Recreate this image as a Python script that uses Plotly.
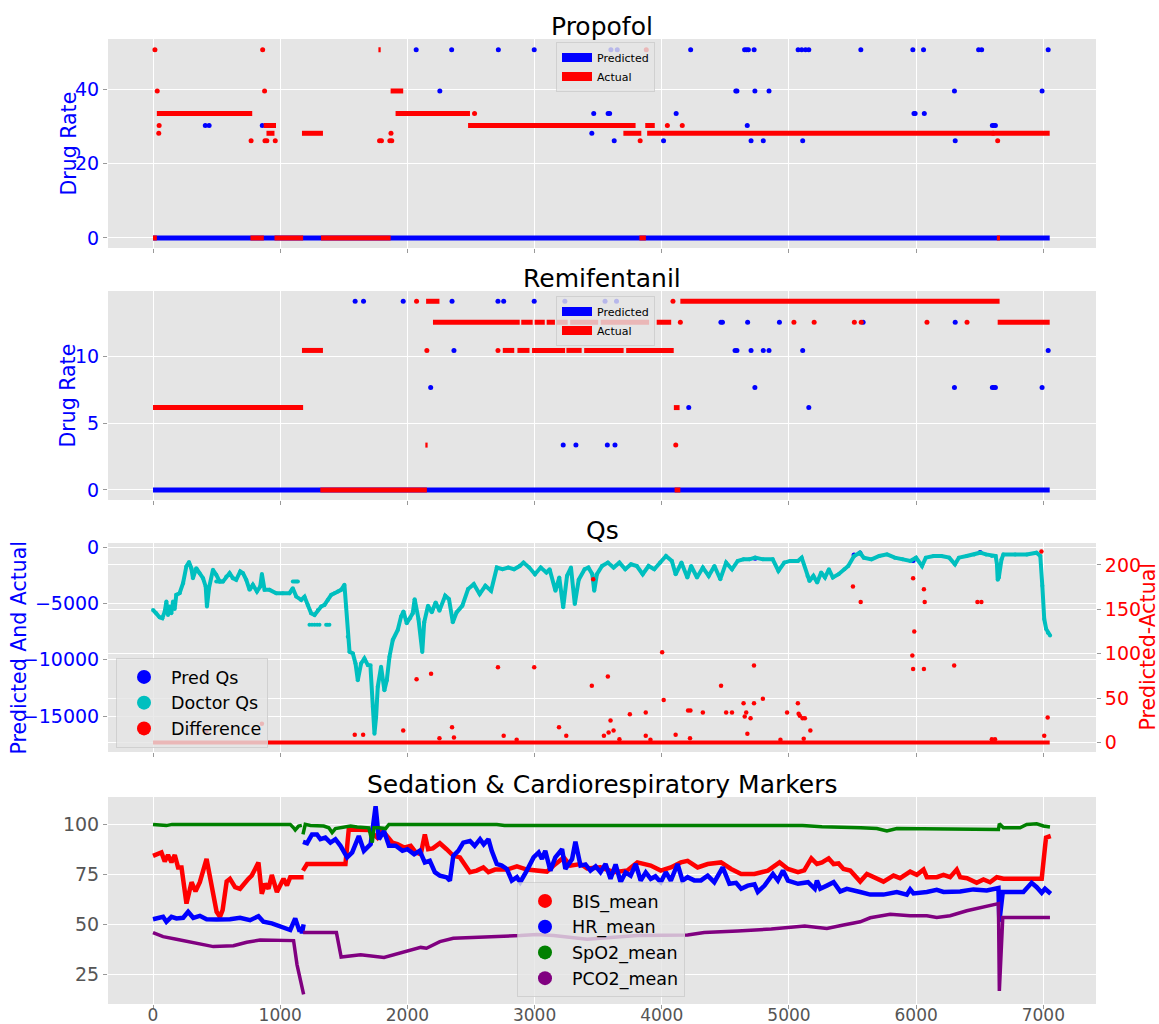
import plotly.graph_objects as go

# ----------------------------- Propofol -----------------------------
PROP_ACT_RUN_START = [0, 30, 766, 870, 892, 955, 1171, 1321, 1772, 1868, 1907, 2477, 3698, 3824, 3870, 3885, 6635]
PROP_ACT_RUN_END = [30, 780, 871, 967, 955, 1180, 1336, 1868, 1790, 1967, 2492, 3794, 3839, 3875, 3945, 7050, 6659]
PROP_ACT_RUN_LEVEL = [0, 33.5, 0, 30.3, 28.2, 0, 28.2, 0, 50.7, 39.6, 33.5, 30.3, 28.2, 0, 30.3, 28.2, 0]

PROP_ACT_PT_X = [15, 33, 45, 48, 771, 862, 877, 880, 895, 961, 1781, 1796, 1862, 1871, 1877, 2528, 3830, 3878, 4044, 4161, 6605, 6641]
PROP_ACT_PT_Y = [50.7, 39.6, 28.2, 30.3, 26.2, 50.7, 39.6, 26.2, 26.2, 26.2, 26.2, 26.2, 26.2, 28.2, 26.2, 33.5, 26.2, 50.7, 30.3, 30.3, 28.2, 26.2]

PROP_PRED_RUN_START = [0]
PROP_PRED_RUN_END = [7050]
PROP_PRED_RUN_LEVEL = [0]

PROP_PRED_PT_X = [411, 441, 859, 2069, 2255, 2348, 2715, 2997, 3450, 3465, 3578, 3590, 3600, 3626, 3650,
                  4014, 4113, 4227, 4582, 4591, 4651, 4666, 4672, 4681, 4702, 4726, 4732, 4798, 4843,
                  5072, 5100, 5108, 5130, 5156, 5565, 5974, 5983, 5992, 6058, 6064, 6301, 6307,
                  6491, 6515, 6599, 6611, 6623, 6990, 7038]
PROP_PRED_PT_Y = [30.3, 30.3, 30.3, 50.7, 39.6, 50.7, 50.7, 50.7, 28.2, 33.5, 33.5, 33.5, 50.7, 26.2, 50.7,
                  26.2, 33.5, 50.7, 39.6, 39.6, 50.7, 50.7, 30.3, 50.7, 26.2, 50.7, 39.6, 26.2, 39.6,
                  50.7, 50.7, 26.2, 50.7, 50.7, 50.7, 50.7, 33.5, 33.5, 50.7, 33.5, 39.6, 26.2,
                  50.7, 50.7, 30.3, 30.3, 30.3, 39.6, 50.7]

# ----------------------------- Remifentanil -----------------------------
REMI_ACT_RUN_START = [0, 1171, 1315, 2141, 2147, 2201, 2895, 3000, 3095, 3175, 3280, 3520, 3960,
                      2750, 2865, 2980, 3250, 3390, 3720, 4095, 4101, 4146, 6641]
REMI_ACT_RUN_END = [1180, 1336, 2153, 2159, 2252, 2883, 2985, 3080, 3160, 3260, 3500, 3900, 4074,
                    2840, 2960, 3240, 3370, 3700, 4094, 4140, 4146, 6656, 7050]
REMI_ACT_RUN_LEVEL = [6.17, 10.45, 0, 3.36, 14.13, 12.56, 12.56, 12.56, 12.56, 12.56, 12.56, 12.56, 12.56,
                      10.45, 10.45, 10.45, 10.45, 10.45, 10.45, 6.17, 0, 14.13, 12.56]

REMI_ACT_PT_X = [2072, 2153, 2712, 4088, 4110, 4146, 5039, 5198, 5514, 5568, 6085, 6400]
REMI_ACT_PT_Y = [14.13, 10.45, 10.45, 14.13, 3.36, 12.56, 12.56, 12.56, 12.56, 12.56, 12.56, 12.56]

REMI_PRED_RUN_START = [0]
REMI_PRED_RUN_END = [7050]
REMI_PRED_RUN_LEVEL = [0]

REMI_PRED_PT_X = [1589, 1655, 1967, 2183, 2351, 2366, 2712, 2757, 2997,
                  3225, 3238, 3325, 3554, 3572, 3632, 3644,
                  4212, 4465, 4477, 4576, 4591, 4675, 4702, 4732, 4798, 4843, 4925,
                  5108, 5156, 5583,
                  6301, 6307, 6599, 6611, 6623, 6990, 7038]
REMI_PRED_PT_Y = [14.13, 14.13, 14.13, 7.67, 14.13, 10.45, 14.13, 14.13, 14.13,
                  3.36, 14.13, 3.36, 14.13, 3.36, 3.36, 14.13,
                  6.17, 12.56, 12.56, 10.45, 10.45, 12.56, 10.45, 7.67, 10.45, 10.45, 12.56,
                  10.45, 6.17, 12.56,
                  7.67, 12.56, 7.67, 7.67, 7.67, 7.67, 10.45]

# ----------------------------- Qs -----------------------------
QS_DOC_X = [0, 26, 52, 73, 92, 105, 118, 131, 144, 157, 170, 183, 209, 236, 262, 283, 301, 314, 340, 366,
            393, 414, 424, 440, 471, 497, 524, 550, 576, 602, 628, 654, 686, 707, 733, 759, 785, 817, 843,
            856, 877, 916, 969, 1021, 1073, 1099, 1126, 1165, 1191, 1217, 1243, 1270, 1296, 1322, 1348,
            1374, 1401, 1427, 1453, 1479, 1505, 1518, 1531, 1545, 1571, 1592, 1610, 1636, 1662, 1689, 1709,
            1728, 1741, 1754, 1767, 1793, 1819, 1838, 1859, 1885, 1924, 1950, 1969, 1995, 2021, 2042,
            2057, 2087, 2117, 2132, 2162, 2192, 2222, 2252, 2297, 2327, 2357, 2387, 2432, 2477, 2522,
            2568, 2613, 2658, 2703, 2748, 2793, 2838, 2883, 2913, 2958, 3003, 3048, 3093, 3118, 3164,
            3194, 3225, 3255, 3286, 3316, 3347, 3393, 3423, 3454, 3469, 3490, 3530, 3576, 3621, 3667,
            3713, 3758, 3804, 3850, 3896, 3941, 3987, 4033, 4079, 4109, 4155, 4201, 4231, 4277, 4323,
            4369, 4414, 4460, 4506, 4552, 4597, 4643, 4689, 4734, 4795, 4872, 4917, 4963, 5009, 5070,
            5100, 5146, 5161, 5192, 5222, 5253, 5283, 5314, 5345, 5390, 5436, 5466, 5512, 5558, 5588,
            5649, 5710, 5771, 5832, 5893, 5954, 5999, 6046, 6076, 6137, 6199, 6260, 6305, 6336, 6397,
            6457, 6503, 6549, 6595, 6625, 6635, 6641, 6650, 6671, 6686, 6778, 6870, 6946, 6976, 6992,
            7007, 7022, 7035, 7053]
QS_DOC_Y = [-5576, -5873, -6229, -6318, -5724, -4835, -6021, -5279, -5873, -4835, -5500, -4241, -4093, -3203,
            -1720, -1335, -1869, -2758, -1869, -2313, -2758, -3500, -5279, -3648, -2017, -2462, -3055, -3055,
            -2610, -2313, -2758, -2907, -2165, -2313, -2907, -3796, -3351, -3945, -3500, -2400, -3796, -3796,
            -4093, -4093, -4093, -3648, -4390, -4686, -4400, -5131, -5873, -6021, -5576, -5279, -5131, -4686,
            -4241, -4093, -3945, -3796, -3351, -5279, -7949, -9283, -9432, -10322, -11805, -10322, -9877,
            -10470, -10500, -14177, -16551, -15067, -12398, -10619, -12695, -11805, -9728, -8245, -7356,
            -6169, -5724, -6762, -6318, -5873, -4620, -6380, -9320, -6670, -5200, -5790, -4910, -5640,
            -4320, -4620, -6670, -5790, -5200, -3730, -3290, -4170, -3440, -3880, -1820, -1970, -1820,
            -1970, -1680, -1380, -1820, -2410, -1820, -2260, -1970, -3880, -2700, -5350, -2560, -1820,
            -5060, -2900, -1970, -1820, -2410, -3880, -2410, -1680, -1380, -1820, -1380, -1970, -1530,
            -1680, -2410, -1680, -1970, -1380, -790, -1230, -2410, -1380, -2700, -1680, -2700, -1820,
            -2560, -1680, -2850, -1380, -1970, -1230, -1090, -1090, -940, -1090, -1090, -2120, -1380,
            -1230, -1230, -940, -2560, -3000, -2560, -3150, -2260, -2700, -1970, -2700, -2410, -1970,
            -1680, -790, -500, -940, -1090, -790, -650, -940, -1090, -1230, -940, -1680, -940, -790,
            -790, -940, -1530, -940, -790, -650, -500, -650, -790, -790, -1500, -2900, -2700, -1100,
            -650, -650, -650, -500, -790, -3440, -6380, -7260, -7600, -7850]

QS_DOC_EXTRA_X = [497, 510, 524, 537, 1099, 1110, 1120, 1130, 1139, 1230, 1250, 1270, 1290, 1309, 1361, 1374, 1387]
QS_DOC_EXTRA_Y = [-3055, -3055, -3055, -3055, -3055, -3055, -3055, -3055, -3055,
                  -6900, -6900, -6900, -6900, -6900, -6900, -6900, -6900]

QS_PRED_X = [4734, 5512, 5558, 5976, 6503]
QS_PRED_Y = [-1000, -700, -520, -1200, -480]

QS_DIFF_RUN_START = [0]
QS_DIFF_RUN_END = [7050]
QS_DIFF_RUN_LEVEL = [0]

QS_DIFF_X = [420, 856, 1586, 1652, 1967, 2072, 2186, 2252, 2351, 2366, 2712, 2757, 2859, 2997, 3192, 3249,
             3450, 3461, 3545, 3576, 3582, 3597, 3621, 3667, 3749, 3874, 3874, 3911, 4003, 4015, 4109, 4207,
             4225, 4222, 4323, 4466, 4506, 4552, 4643, 4652, 4664, 4673, 4698, 4725, 4725, 4795, 4933, 4985,
             5070, 5076, 5085, 5107, 5116, 5125, 5168, 5503, 5564, 5976, 5985, 5970, 5976, 6061, 6067, 6061,
             6299, 6482, 6513, 6595, 6620, 6985, 7007, 7034]
QS_DIFF_Y = [12.4, 21, 8.6, 8.6, 13.5, 71.3, 77.3, 4.9, 17.3, 5.6, 84.8, 7.5, 3, 84.8, 17.3, 7.5,
             63.8, 183.9, 7.5, 74.3, 11.3, 24.8, 13.5, 3.8, 31.9, 33.8, 7.5, 3, 101.7, 48, 8.6, 36,
             36, 4.9, 33.8, 63.8, 33.8, 33.8, 44.3, 29.3, 33.8, 9.8, 27.4, 86.7, 44.3, 49.2, 3, 33.8,
             44.3, 32.3, 30, 27.4, 4.1, 27.4, 13.5, 175.6, 158.3, 185, 125, 97.9, 82.9, 172.6, 158.3, 82.9,
             86.7, 158.3, 158.3, 3.8, 3.8, 215, 7.5, 28.1]

QS_LEFT_TICKS = [-15000, -10000, -5000, 0]
QS_LEFT_TICKTEXT = ["\u221215000", "\u221210000", "\u22125000", "0"]
QS_RIGHT_TICKS = [0, 50, 100, 150, 200]

# ----------------------------- Markers -----------------------------
BIS_X = [0, 66, 92, 118, 145, 171, 197, 224, 263, 303, 334, 368, 421, 461, 500, 526, 547, 579, 605, 645,
         684, 750, 776, 803, 829, 855, 882, 908, 934, 974, 1026, 1053, 1079, 1132, 1184, None,
         1179, 1211, 1513, 1539, 1697, 1763, 1789, 1829, 1882, 1921, 1974, 2026, 2066, 2105, 2137, 2163,
         2200, 2255, 2308, 2361, 2413, 2466, 2492, 2545, 2597, 2637, 2689, 2782, 2861, 2939, 3005, 3097,
         3150, 3229, 3282, 3361, 3413, 3518, 3624, 3729, 3808, 3913, 3992, 4071, 4150, 4203, 4282, 4361,
         4466, 4545, 4624, 4729, 4834, 4926, 4992, 5071, 5120, 5176, 5220, 5260, 5312, 5351, 5390, 5429,
         5482, 5560, 5613, 5691, 5743, 5822, 5874, 5953, 6005, 6058, 6084, 6162, 6215, 6267, 6319, 6346,
         6400, 6476, 6529, 6581, 6634, 6686, 6987, 7021, 7058]
BIS_Y = [84.3, 86, 81.5, 84.7, 81, 84.7, 78.5, 78.5, 60.4, 71.1, 66.5, 71.1, 82.7, 69.5, 56.3, 53.8, 57.1,
         71.5, 72.8, 68.6, 67.8, 72.8, 74.4, 77.7, 81, 65.3, 70.3, 67.8, 74.7, 66.2, 72.8, 69.5, 73.6, 73.6,
         73.6, None,
         76.9, 80.2, 80.2, 97.5, 97.2, 93.4, 96.7, 95, 90.9, 90.1, 88.4, 89.3, 86, 85.1, 95, 87.6,
         88, 90.6, 87.6, 84.3, 83.5, 78.5, 76.1, 76.9, 78.5, 76.1, 77.4, 77.4, 79, 77.4, 76.9, 76.4,
         79.4, 83.5, 79.4, 80.2, 78, 78.5, 76.1, 77, 81, 79.4, 76.9, 78.5, 81, 81.8, 78.5, 80.2,
         81, 77.7, 75.2, 75.2, 76.9, 81, 77.7, 76.1, 77, 83, 80.2, 81, 83, 80.2, 80.5, 77.7,
         76.9, 71.4, 75.2, 73.1, 71.4, 74.4, 73.1, 76.4, 74.8, 77.4, 73.6, 73.6, 74.8, 73.6, 77.4, 73.6,
         73.1, 70.8, 72.5, 71.1, 73.6, 72.8, 72.8, 93.4, 94.2]

HR_X = [0, 39, 79, 105, 145, 184, 237, 276, 316, 368, 421, 500, 605, 684, 763, 829, 868, 934, 1000, 1053,
        1079, 1118, 1153, 1163, 1171, 1184, None,
        1179, 1211, 1250, 1289, 1316, 1355, 1395, 1434, 1474, 1526, 1566, 1618, 1658, 1711, 1750, 1776,
        1816, 1855, 1908, 1961, 2000, 2053, 2097, 2137, 2176, 2216, 2255, 2308, 2334, 2361, 2400, 2439,
        2492, 2529, 2571, 2600, 2637, 2663, 2703, 2742, 2782, 2821, 2861, 2887, 2939, 2992, 3032, 3058,
        3084, 3124, 3163, 3216, 3242, 3295, 3321, 3361, 3400, 3439, 3480, 3518, 3558, 3597, 3637, 3676,
        3715, 3755, 3795, 3834, 3874, 3913, 3950, 3992, 4032, 4071, 4124, 4163, 4203, 4255, 4308, 4361,
        4413, 4479, 4532, 4584, 4624, 4676, 4729, 4755, 4808, 4874, 4913, 4953, 4992, 5071, 5150, 5203,
        5220, 5246, 5298, 5351, 5403, 5455, 5560, 5639, 5743, 5848, 5927, 5953, 5979, 6084, 6162, 6215,
        6346, 6450, 6555, 6620, 6647, 6654, 6681, 6843, 6908, 6948, 6987, 7013, 7058]
HR_Y = [52.6, 53.3, 53.8, 51.3, 53.8, 53, 53.3, 56.3, 53.3, 54.3, 52.6, 52.5, 52.6, 53.3, 52.1, 54.1, 51.3,
        50.5, 48.8, 48, 47.2, 53, 46.4, 48.8, 45.5, 50, None,
        91.3, 90.6, 95, 95, 92.6, 93.4, 90.9, 92.6, 89.3, 83.5, 86, 94.2, 86.8, 90.1, 109.1, 92.6,
        96.7, 89.3, 89.3, 86.8, 87.6, 85.1, 86.8, 81, 81.8, 76.1, 74.4, 73.6, 71.9, 84.3, 86.8, 90.9,
        91.7, 89.3, 92.6, 90, 92.6, 86.8, 80.2, 79.4, 77.7, 71.9, 73.6, 71.1, 76.9, 83.5, 86, 82.7,
        86.8, 76.9, 83.5, 87.6, 77.7, 82.7, 91.3, 79.4, 80, 76.9, 79, 76.1, 80.2, 72.8, 80, 71.1,
        76, 74.4, 80.2, 71.9, 76, 72.8, 74, 71.1, 76.1, 71.9, 80.2, 71.9, 73.6, 72, 72, 74.4,
        71.1, 78.5, 70.3, 70.8, 67.8, 69.4, 70, 66.2, 69.4, 75.2, 71.9, 76.9, 71.9, 70.3, 71.1, 67.8,
        71.9, 67.8, 69.4, 71.1, 66.5, 67.8, 66.2, 64.9, 64.9, 66.2, 64.9, 67.5, 65.5, 66.2, 67.3, 66.2,
        66.5, 67.5, 67, 68.2, 68.2, 51.3, 66.2, 66.2, 70.8, 68.6, 65.8, 67.8, 65.3]

SPO2_X = [0, 105, 150, 1079, 1105, 1118, 1145, 1170, None,
          1179, 1197, 1237, 1289, 1342, 1382, 1408, 1434, 1500, 1553, 1605, 1658, 1697, 1724, 1737, 1776,
          1829, 1855, 2703, 2763, 3508, 4466, 5107, 5260, 5429, 5565, 5691, 5770, 5848, 6084, 6346, 6647,
          6654, 6686, 6817, 6869, 6948, 7000, 7052]
SPO2_Y = [100, 99.4, 100, 100, 98.3, 97.2, 99.2, 99.5, None,
          95, 100, 99.5, 99.2, 99.2, 98.3, 95.9, 97.9, 98.7, 99.2, 98.7, 98.3, 98.3, 90.9, 98.3, 98.3,
          97.9, 100, 100, 99.5, 99.5, 99.5, 99.5, 98.8, 98.7, 98.3, 97.9, 96.7, 97.9, 97.9, 97.5, 97.5,
          100.3, 98.3, 98.3, 100, 100.3, 99.2, 98.7]

PCO2_X = [0, 79, 184, 289, 395, 474, 632, 737, 842, 1000, 1105, 1132, 1158, 1184, None,
          1180, 1442, 1479, 1632, 1816, 2000, 2105, 2150, 2255, 2361, 2624, 2887, 3018, 3150, 3413, 3545,
          3808, 4203, 4334, 4597, 4861, 5124, 5255, 5298, 5429, 5560, 5639, 5796, 5953, 6084, 6162, 6267,
          6398, 6529, 6647, 6654, 6681, 7052]
PCO2_Y = [45.9, 43.9, 42.6, 41.1, 39.8, 38.9, 39.3, 41.1, 42.2, 42.2, 41.9, 29.9, 21.6, 15, None,
          45.9, 45.9, 33.7, 34.8, 33.5, 36.5, 38.5, 38.1, 41.4, 43.1, 43.6, 44.4, 45, 44.4, 42.6, 43.1,
          44.4, 44.7, 46, 46.7, 47.7, 49.2, 48.5, 48, 49.7, 51.3, 53.3, 55.1, 54.3, 54.3, 53.5, 54.3,
          56.8, 58.7, 60.4, 16.7, 53.5, 53.5]

X_TICKS = [0, 1000, 2000, 3000, 4000, 5000, 6000, 7000]

# ----------------------------- styling -----------------------------
FONT = "DejaVu Sans"
BLUE = "#0000FF"
RED = "#FF0000"
CYAN = "#00BFBF"
GREEN = "#008000"
PURPLE = "#800080"
BG = "#E5E5E5"
TICKGRAY = "#555555"

W, H = 1159, 1024
ML, MR, MT, MB = 108, 63, 39, 20
PW = W - ML - MR
PH = H - MT - MB


def ydom(top_px, bot_px):
    return [(H - MB - bot_px) / PH, (H - MB - top_px) / PH]


DOM1 = ydom(39, 248)
DOM2 = ydom(291, 500)
DOM3 = ydom(543, 752)
DOM4 = ydom(797, 1004)


def runs(starts, ends, levels):
    xs, ys = [], []
    for s, e, v in zip(starts, ends, levels):
        xs += [s, e, None]
        ys += [v, v, None]
    return xs, ys


fig = go.Figure()


def drug_panel(xa, ya, legend, pr_s, pr_e, pr_l, pp_x, pp_y, ar_s, ar_e, ar_l, ap_x, ap_y):
    rx, ry = runs(pr_s, pr_e, pr_l)
    fig.add_trace(go.Scatter(x=rx, y=ry, mode="lines", line=dict(color=BLUE, width=5),
                             xaxis=xa, yaxis=ya, showlegend=False, hoverinfo="skip"))
    fig.add_trace(go.Scatter(x=pp_x, y=pp_y, mode="markers", marker=dict(color=BLUE, size=5),
                             xaxis=xa, yaxis=ya, showlegend=False))
    rx, ry = runs(ar_s, ar_e, ar_l)
    fig.add_trace(go.Scatter(x=rx, y=ry, mode="lines", line=dict(color=RED, width=5),
                             xaxis=xa, yaxis=ya, showlegend=False, hoverinfo="skip"))
    fig.add_trace(go.Scatter(x=ap_x, y=ap_y, mode="markers", marker=dict(color=RED, size=5),
                             xaxis=xa, yaxis=ya, showlegend=False))
    for name, col in [("Predicted", BLUE), ("Actual", RED)]:
        fig.add_trace(go.Scatter(x=[None], y=[None], mode="lines", name=name,
                                 line=dict(color=col, width=9), xaxis=xa, yaxis=ya,
                                 legend=legend, showlegend=True))


drug_panel("x", "y", "legend", PROP_PRED_RUN_START, PROP_PRED_RUN_END, PROP_PRED_RUN_LEVEL,
           PROP_PRED_PT_X, PROP_PRED_PT_Y, PROP_ACT_RUN_START, PROP_ACT_RUN_END, PROP_ACT_RUN_LEVEL,
           PROP_ACT_PT_X, PROP_ACT_PT_Y)
drug_panel("x2", "y2", "legend2", REMI_PRED_RUN_START, REMI_PRED_RUN_END, REMI_PRED_RUN_LEVEL,
           REMI_PRED_PT_X, REMI_PRED_PT_Y, REMI_ACT_RUN_START, REMI_ACT_RUN_END, REMI_ACT_RUN_LEVEL,
           REMI_ACT_PT_X, REMI_ACT_PT_Y)

# Qs panel
fig.add_trace(go.Scatter(x=QS_PRED_X, y=QS_PRED_Y, mode="markers", marker=dict(color=BLUE, size=5),
                         xaxis="x3", yaxis="y3", showlegend=False))
fig.add_trace(go.Scatter(x=QS_DOC_X, y=QS_DOC_Y, mode="lines+markers", line=dict(color=CYAN, width=4),
                         marker=dict(color=CYAN, size=4), xaxis="x3", yaxis="y3", showlegend=False))
fig.add_trace(go.Scatter(x=QS_DOC_EXTRA_X, y=QS_DOC_EXTRA_Y, mode="markers", marker=dict(color=CYAN, size=4),
                         xaxis="x3", yaxis="y3", showlegend=False))
rx, ry = runs(QS_DIFF_RUN_START, QS_DIFF_RUN_END, QS_DIFF_RUN_LEVEL)
fig.add_trace(go.Scatter(x=rx, y=ry, mode="lines", line=dict(color=RED, width=4),
                         xaxis="x3", yaxis="y5", showlegend=False))
fig.add_trace(go.Scatter(x=QS_DIFF_X, y=QS_DIFF_Y, mode="markers", marker=dict(color=RED, size=4.5),
                         xaxis="x3", yaxis="y5", showlegend=False))
for name, col in [("Pred Qs", BLUE), ("Doctor Qs", CYAN), ("Difference", RED)]:
    fig.add_trace(go.Scatter(x=[None], y=[None], mode="markers", name=name,
                             marker=dict(color=col, size=14), xaxis="x3", yaxis="y3",
                             legend="legend3", showlegend=True))

# Markers panel
for xs, ys, col, wdt in [(BIS_X, BIS_Y, RED, 4.5), (HR_X, HR_Y, BLUE, 4.5),
                         (SPO2_X, SPO2_Y, GREEN, 3.5), (PCO2_X, PCO2_Y, PURPLE, 3.5)]:
    fig.add_trace(go.Scatter(x=xs, y=ys, mode="lines", line=dict(color=col, width=wdt),
                             connectgaps=False, xaxis="x4", yaxis="y4", showlegend=False))
for name, col in [("BIS_mean", RED), ("HR_mean", BLUE), ("SpO2_mean", GREEN), ("PCO2_mean", PURPLE)]:
    fig.add_trace(go.Scatter(x=[None], y=[None], mode="markers", name=name,
                             marker=dict(color=col, size=14), xaxis="x4", yaxis="y4",
                             legend="legend4", showlegend=True))

XR = [-354, 7414]
axis_common = dict(showgrid=True, gridcolor="white", gridwidth=1, zeroline=False, showline=False,
                   ticks="outside", ticklen=4, tickcolor="#999999", automargin=False)

xcommon = dict(axis_common, range=XR, tickvals=X_TICKS, domain=[0, 1])

leg_common = dict(bgcolor="rgba(229,229,229,0.8)", bordercolor="rgba(200,200,200,0.7)", borderwidth=1,
                  xanchor="left", yanchor="top", tracegroupgap=0)


def px_x(p):
    return (p - ML) / PW


def px_y(p):
    return (H - MB - p) / PH


fig.update_layout(
    width=W, height=H, template="none",
    margin=dict(l=ML, r=MR, t=MT, b=MB, pad=0),
    paper_bgcolor="white", plot_bgcolor=BG,
    font=dict(family=FONT, size=18, color="black"),
    xaxis=dict(xcommon, anchor="y", matches="x4", showticklabels=False),
    xaxis2=dict(xcommon, anchor="y2", matches="x4", showticklabels=False),
    xaxis3=dict(xcommon, anchor="y3", matches="x4", showticklabels=False),
    xaxis4=dict(xcommon, anchor="y4", tickfont=dict(color=TICKGRAY, size=17), ticklabelstandoff=-8),
    yaxis=dict(axis_common, domain=DOM1, anchor="x", range=[-2.7, 53.6], tickvals=[0, 20, 40],
               tickfont=dict(color=BLUE, size=19)),
    yaxis2=dict(axis_common, domain=DOM2, anchor="x2", range=[-0.75, 14.9], tickvals=[0, 5, 10],
                tickfont=dict(color=BLUE, size=19)),
    yaxis3=dict(axis_common, domain=DOM3, anchor="x3", range=[-18180, 360],
                tickvals=QS_LEFT_TICKS, ticktext=QS_LEFT_TICKTEXT, tickfont=dict(color=BLUE, size=19)),
    yaxis5=dict(axis_common, overlaying="y3", side="right", anchor="x3", range=[-10.7, 224.7],
                tickvals=QS_RIGHT_TICKS, tickfont=dict(color=RED, size=19)),
    yaxis4=dict(axis_common, domain=DOM4, anchor="x4", range=[10.2, 113.7],
                tickvals=[25, 50, 75, 100], tickfont=dict(color=TICKGRAY, size=19)),
    legend=dict(leg_common, x=px_x(556), y=px_y(42), font=dict(size=11, color="black")),
    legend2=dict(leg_common, x=px_x(556), y=px_y(296), font=dict(size=11, color="black")),
    legend3=dict(leg_common, x=px_x(116), y=px_y(658), font=dict(size=17.5, color="black"), itemwidth=44),
    legend4=dict(leg_common, x=px_x(517), y=px_y(882), font=dict(size=17.5, color="black"), itemwidth=44),
)

annotations = []
for title, dom in [("Propofol", DOM1), ("Remifentanil", DOM2), ("Qs", DOM3),
                   ("Sedation & Cardiorespiratory Markers", DOM4)]:
    annotations.append(dict(text=title, x=0.5, y=dom[1], xref="paper", yref="paper",
                            xanchor="center", yanchor="bottom", showarrow=False, yshift=-4,
                            font=dict(size=25, color="black", family=FONT)))
for text, xpx, dom, col in [("Drug Rate", 68, DOM1, BLUE), ("Drug Rate", 68, DOM2, BLUE),
                            ("Predicted And Actual", 18, DOM3, BLUE), ("Predicted-Actual", 1147, DOM3, RED)]:
    annotations.append(dict(text=text, x=px_x(xpx), y=(dom[0] + dom[1]) / 2, xref="paper", yref="paper",
                            xanchor="center", yanchor="middle", showarrow=False, textangle=-90,
                            font=dict(size=20.5, color=col, family=FONT)))
fig.update_layout(annotations=annotations)

fig.write_html("out.html")
